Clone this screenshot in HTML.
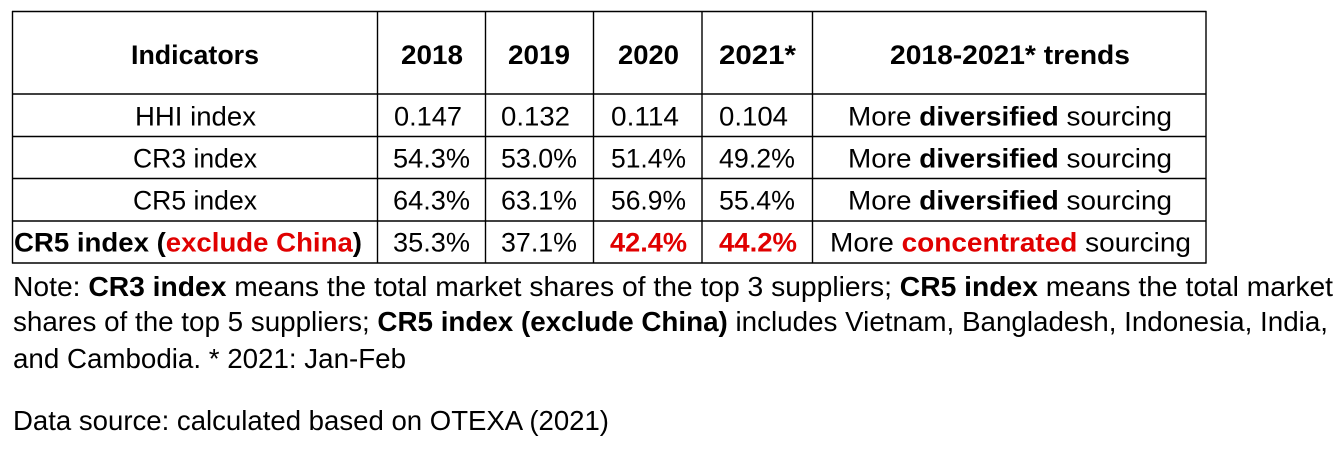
<!DOCTYPE html>
<html>
<head>
<meta charset="utf-8">
<style>
  html, body { margin: 0; padding: 0; background: #ffffff; }
  body { width: 1344px; height: 458px; overflow: hidden; }
  svg { display: block; }
  text { font-family: "Liberation Sans", sans-serif; fill: #000; }
  .t { font-size: 26.5px; }
  .n { font-size: 28px; }
  .b { font-weight: bold; }
  .r { fill: #e00000; }
</style>
</head>
<body>
<svg width="1344" height="458" viewBox="0 0 1344 458" xmlns="http://www.w3.org/2000/svg">
  <rect x="0" y="0" width="1344" height="458" fill="#fff"/>
  <g stroke="#000" stroke-width="1.4" fill="none">
    <line x1="12" y1="11.5" x2="1206.5" y2="11.5"/>
    <line x1="12" y1="94" x2="1206.5" y2="94"/>
    <line x1="12" y1="136.5" x2="1206.5" y2="136.5"/>
    <line x1="12" y1="178.5" x2="1206.5" y2="178.5"/>
    <line x1="12" y1="221" x2="1206.5" y2="221"/>
    <line x1="12" y1="263" x2="1206.5" y2="263"/>
    <line x1="12.5" y1="11" x2="12.5" y2="263.5"/>
    <line x1="377.5" y1="11" x2="377.5" y2="263.5"/>
    <line x1="485.5" y1="11" x2="485.5" y2="263.5"/>
    <line x1="593.5" y1="11" x2="593.5" y2="263.5"/>
    <line x1="702" y1="11" x2="702" y2="263.5"/>
    <line x1="812.5" y1="11" x2="812.5" y2="263.5"/>
    <line x1="1206" y1="11" x2="1206" y2="263.5"/>
  </g>

  <!-- Header -->
  <text class="t b" x="131" y="64" textLength="128" lengthAdjust="spacingAndGlyphs">Indicators</text>
  <text class="t b" x="401" y="64" textLength="62" lengthAdjust="spacingAndGlyphs">2018</text>
  <text class="t b" x="508" y="64" textLength="62" lengthAdjust="spacingAndGlyphs">2019</text>
  <text class="t b" x="618" y="64" textLength="61" lengthAdjust="spacingAndGlyphs">2020</text>
  <text class="t b" x="719" y="64" textLength="77" lengthAdjust="spacingAndGlyphs">2021*</text>
  <text class="t b" x="890" y="64" textLength="240" lengthAdjust="spacingAndGlyphs">2018-2021* trends</text>

  <!-- Row 1 -->
  <text class="t" x="135" y="125.5" textLength="121" lengthAdjust="spacingAndGlyphs">HHI index</text>
  <text class="t" x="394" y="125.5" textLength="68" lengthAdjust="spacingAndGlyphs">0.147</text>
  <text class="t" x="501" y="125.5" textLength="69" lengthAdjust="spacingAndGlyphs">0.132</text>
  <text class="t" x="611" y="125.5" textLength="68" lengthAdjust="spacingAndGlyphs">0.114</text>
  <text class="t" x="719" y="125.5" textLength="69" lengthAdjust="spacingAndGlyphs">0.104</text>
  <text class="t" x="848" y="125.5" textLength="324" lengthAdjust="spacingAndGlyphs">More <tspan class="b">diversified</tspan> sourcing</text>

  <!-- Row 2 -->
  <text class="t" x="133" y="167.5" textLength="124" lengthAdjust="spacingAndGlyphs">CR3 index</text>
  <text class="t" x="393" y="167.5" textLength="77" lengthAdjust="spacingAndGlyphs">54.3%</text>
  <text class="t" x="501" y="167.5" textLength="76" lengthAdjust="spacingAndGlyphs">53.0%</text>
  <text class="t" x="611" y="167.5" textLength="75" lengthAdjust="spacingAndGlyphs">51.4%</text>
  <text class="t" x="719" y="167.5" textLength="76" lengthAdjust="spacingAndGlyphs">49.2%</text>
  <text class="t" x="848" y="167.5" textLength="324" lengthAdjust="spacingAndGlyphs">More <tspan class="b">diversified</tspan> sourcing</text>

  <!-- Row 3 -->
  <text class="t" x="133" y="209.5" textLength="124" lengthAdjust="spacingAndGlyphs">CR5 index</text>
  <text class="t" x="393" y="209.5" textLength="77" lengthAdjust="spacingAndGlyphs">64.3%</text>
  <text class="t" x="501" y="209.5" textLength="76" lengthAdjust="spacingAndGlyphs">63.1%</text>
  <text class="t" x="611" y="209.5" textLength="75" lengthAdjust="spacingAndGlyphs">56.9%</text>
  <text class="t" x="719" y="209.5" textLength="76" lengthAdjust="spacingAndGlyphs">55.4%</text>
  <text class="t" x="848" y="209.5" textLength="324" lengthAdjust="spacingAndGlyphs">More <tspan class="b">diversified</tspan> sourcing</text>

  <!-- Row 4 -->
  <text class="t b" x="14" y="251.5" textLength="348" lengthAdjust="spacingAndGlyphs">CR5 index (<tspan class="r">exclude China</tspan>)</text>
  <text class="t" x="393" y="251.5" textLength="77" lengthAdjust="spacingAndGlyphs">35.3%</text>
  <text class="t" x="501" y="251.5" textLength="76" lengthAdjust="spacingAndGlyphs">37.1%</text>
  <text class="t b r" x="610" y="251.5" textLength="77" lengthAdjust="spacingAndGlyphs">42.4%</text>
  <text class="t b r" x="719" y="251.5" textLength="78" lengthAdjust="spacingAndGlyphs">44.2%</text>
  <text class="t" x="830" y="251.5" textLength="361" lengthAdjust="spacingAndGlyphs">More <tspan class="b r">concentrated</tspan> sourcing</text>

  <!-- Notes -->
  <text class="n" x="13" y="296" textLength="1320" lengthAdjust="spacingAndGlyphs">Note: <tspan class="b">CR3 index</tspan> means the total market shares of the top 3 suppliers; <tspan class="b">CR5 index</tspan> means the total market</text>
  <text class="n" x="13" y="331" textLength="1315" lengthAdjust="spacingAndGlyphs">shares of the top 5 suppliers; <tspan class="b">CR5 index (exclude China)</tspan> includes Vietnam, Bangladesh, Indonesia, India,</text>
  <text class="n" x="13" y="368" textLength="393" lengthAdjust="spacingAndGlyphs">and Cambodia. * 2021: Jan-Feb</text>
  <text class="n" x="13" y="430" textLength="596" lengthAdjust="spacingAndGlyphs">Data source: calculated based on OTEXA (2021)</text>
</svg>
</body>
</html>
